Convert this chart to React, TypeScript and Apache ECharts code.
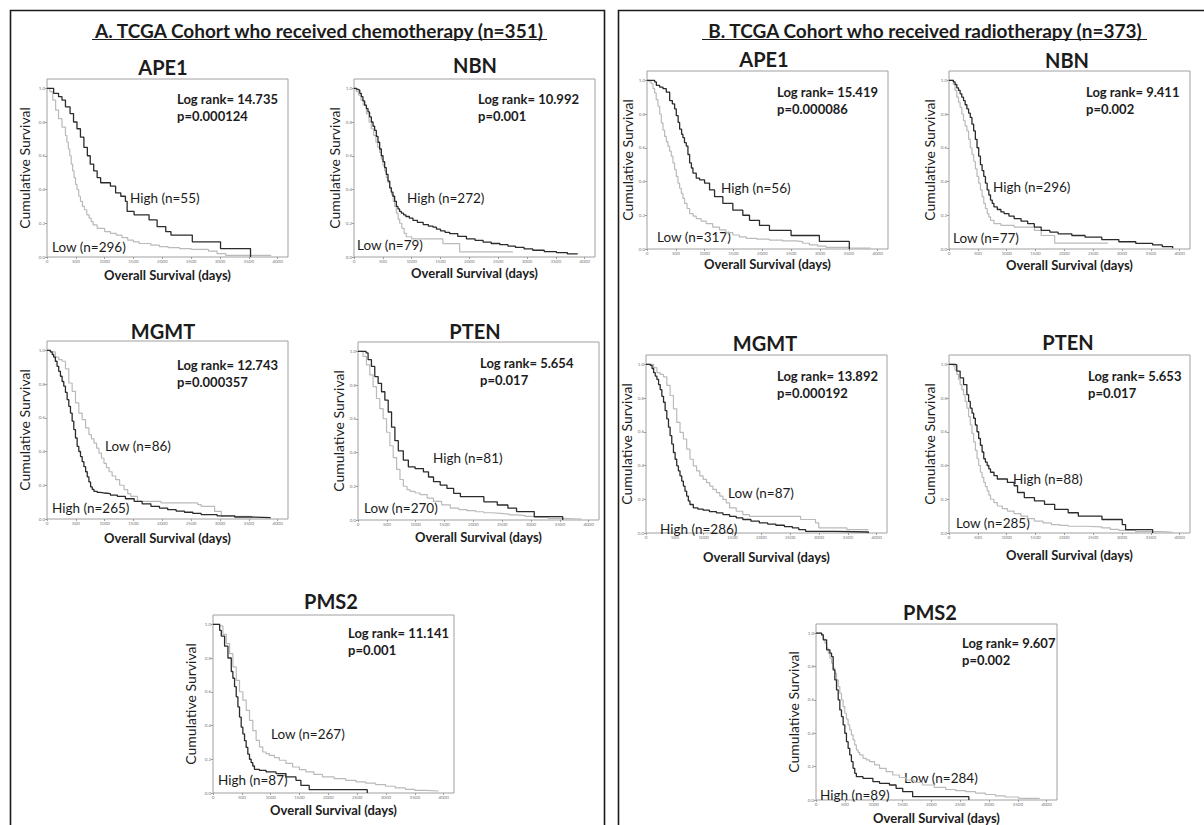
import React, { useEffect, useRef } from "react";
import * as echarts from "echarts";

type P = [number, number];

// ---------- survival data (days, cumulative survival) ----------
const chemoApe1High: P[] = [[0,1],[115,0.97],[200,0.95],[260,0.93],[320,0.89],[400,0.85],[460,0.8],[520,0.76],[580,0.71],[640,0.65],[700,0.6],[750,0.55],[810,0.51],[870,0.47],[930,0.44],[1100,0.42],[1190,0.38],[1280,0.36],[1360,0.33],[1390,0.27],[1510,0.25],[1770,0.22],[1910,0.18],[2060,0.15],[2150,0.13],[2520,0.09],[3010,0.05],[3530,0]];
const chemoApe1Low: P[] = [[0,1],[50,0.98],[100,0.93],[150,0.87],[200,0.82],[260,0.77],[320,0.72],[345,0.68],[370,0.64],[395,0.6],[420,0.55],[445,0.51],[470,0.47],[495,0.43],[520,0.4],[550,0.36],[580,0.33],[615,0.3],[650,0.28],[690,0.25],[730,0.23],[765,0.21],[800,0.19],[870,0.17],[1000,0.15],[1100,0.14],[1200,0.13],[1300,0.115],[1400,0.1],[1500,0.09],[1600,0.08],[1800,0.07],[1950,0.062],[2100,0.055],[2300,0.05],[2500,0.045],[2800,0.035],[2950,0.02],[3100,0.01],[3880,0.005]];
const chemoNbnHigh: P[] = [[0,1],[40,0.995],[70,0.99],[100,0.97],[127,0.95],[155,0.925],[185,0.9],[215,0.88],[243,0.86],[270,0.83],[301,0.8],[330,0.775],[358,0.75],[387,0.715],[416,0.68],[445,0.64],[474,0.6],[503,0.565],[532,0.53],[560,0.49],[590,0.45],[620,0.41],[647,0.385],[675,0.36],[705,0.33],[735,0.3],[763,0.285],[790,0.27],[821,0.26],[860,0.25],[900,0.24],[960,0.23],[1023,0.217],[1100,0.205],[1200,0.192],[1290,0.183],[1370,0.177],[1430,0.165],[1500,0.155],[1580,0.146],[1660,0.138],[1800,0.122],[1950,0.108],[2100,0.098],[2240,0.088],[2380,0.08],[2530,0.073],[2670,0.065],[2800,0.057],[2950,0.048],[3100,0.04],[3300,0.032],[3510,0.026],[3700,0.018],[3880,0.014]];
const chemoNbnLow: P[] = [[0,1],[40,0.98],[80,0.96],[120,0.93],[160,0.9],[215,0.85],[260,0.8],[300,0.76],[340,0.72],[380,0.68],[410,0.65],[445,0.62],[475,0.58],[505,0.54],[530,0.51],[560,0.47],[590,0.44],[618,0.41],[650,0.37],[680,0.33],[705,0.3],[734,0.26],[765,0.225],[792,0.2],[830,0.17],[870,0.14],[907,0.12],[1000,0.108],[1543,0.079],[1832,0.03],[2757,0.03]];
const chemoMgmtHigh: P[] = [[0,1],[58,0.99],[90,0.975],[116,0.96],[145,0.935],[174,0.905],[203,0.875],[233,0.846],[262,0.815],[291,0.787],[320,0.75],[349,0.708],[378,0.668],[407,0.628],[436,0.58],[465,0.53],[494,0.48],[523,0.43],[552,0.4],[581,0.37],[610,0.34],[640,0.31],[670,0.28],[698,0.25],[727,0.22],[756,0.19],[785,0.175],[814,0.164],[870,0.158],[930,0.154],[1000,0.15],[1100,0.142],[1221,0.134],[1360,0.12],[1512,0.105],[1650,0.09],[1802,0.075],[1950,0.065],[2093,0.055],[2240,0.047],[2384,0.04],[2530,0.033],[2674,0.026],[2950,0.019],[3256,0.012],[3500,0.008],[3880,0.006]];
const chemoMgmtLow: P[] = [[0,1],[58,0.99],[145,0.96],[203,0.945],[262,0.935],[320,0.89],[378,0.806],[436,0.757],[494,0.688],[552,0.628],[610,0.589],[669,0.54],[727,0.5],[770,0.475],[814,0.45],[860,0.42],[901,0.39],[945,0.36],[988,0.33],[1030,0.305],[1076,0.28],[1130,0.255],[1192,0.233],[1260,0.2],[1337,0.174],[1400,0.15],[1453,0.134],[1570,0.105],[1977,0.095],[2616,0.085],[2674,0.075],[2907,0.045],[3023,0.016],[3547,0.006]];
const chemoPtenHigh: P[] = [[0,1],[140,0.99],[175,0.95],[233,0.91],[291,0.85],[349,0.81],[408,0.76],[466,0.71],[524,0.64],[582,0.55],[640,0.47],[699,0.41],[786,0.355],[873,0.315],[990,0.305],[1135,0.285],[1223,0.255],[1310,0.227],[1426,0.207],[1543,0.187],[1659,0.158],[1776,0.138],[2183,0.108],[2416,0.089],[2600,0.07],[2750,0.05],[3057,0.02],[3551,0]];
const chemoPtenLow: P[] = [[0,1],[87,0.97],[146,0.92],[204,0.86],[262,0.79],[320,0.72],[378,0.66],[437,0.6],[495,0.52],[553,0.44],[611,0.37],[670,0.3],[728,0.24],[786,0.2],[850,0.18],[902,0.17],[990,0.16],[1077,0.15],[1200,0.13],[1310,0.11],[1450,0.09],[1601,0.07],[1750,0.062],[1892,0.055],[2040,0.049],[2183,0.043],[2330,0.039],[2474,0.035],[2620,0.03],[2765,0.026],[2900,0.021],[3057,0.016],[3300,0.01],[3522,0.006],[3880,0.006]];
const chemoPms2High: P[] = [[0,1],[115,0.964],[144,0.93],[201,0.87],[259,0.8],[317,0.72],[345,0.68],[374,0.63],[403,0.57],[432,0.51],[460,0.45],[489,0.39],[518,0.35],[547,0.31],[575,0.27],[604,0.23],[633,0.2],[662,0.18],[690,0.16],[719,0.14],[806,0.134],[921,0.125],[1093,0.115],[1266,0.095],[1439,0.075],[1525,0.045],[1669,0.02],[2676,0]];
const chemoPms2Low: P[] = [[0,1],[115,0.99],[173,0.94],[230,0.885],[288,0.826],[345,0.747],[403,0.668],[460,0.6],[518,0.55],[576,0.49],[633,0.43],[691,0.37],[748,0.312],[806,0.273],[863,0.243],[920,0.233],[978,0.223],[1065,0.21],[1151,0.194],[1265,0.175],[1381,0.154],[1500,0.138],[1611,0.125],[1750,0.11],[1899,0.095],[2100,0.085],[2302,0.075],[2480,0.066],[2647,0.059],[2820,0.05],[2993,0.04],[3160,0.03],[3338,0.022],[3500,0.016],[3683,0.012],[3913,0.01]];

const radioApe1High: P[] = [[0,1],[133,0.99],[162,0.97],[219,0.96],[277,0.95],[335,0.93],[393,0.88],[440,0.86],[479,0.83],[508,0.79],[540,0.75],[566,0.71],[600,0.68],[623,0.66],[650,0.63],[681,0.61],[710,0.56],[739,0.51],[770,0.48],[797,0.45],[854,0.42],[912,0.41],[999,0.39],[1085,0.35],[1172,0.31],[1316,0.27],[1489,0.23],[1662,0.2],[1778,0.17],[1951,0.14],[2124,0.11],[2499,0.08],[2990,0.045],[3509,0]];
const radioApe1Low: P[] = [[0,1],[40,0.99],[75,0.98],[105,0.95],[133,0.925],[160,0.885],[190,0.846],[220,0.8],[248,0.747],[277,0.705],[306,0.667],[335,0.637],[364,0.608],[392,0.58],[421,0.55],[450,0.51],[479,0.47],[508,0.43],[537,0.39],[566,0.36],[595,0.33],[623,0.3],[652,0.27],[695,0.24],[739,0.21],[800,0.195],[854,0.18],[940,0.165],[1027,0.15],[1140,0.13],[1258,0.113],[1370,0.097],[1489,0.083],[1600,0.072],[1720,0.063],[1900,0.058],[2124,0.053],[2350,0.048],[2586,0.044],[2700,0.034],[2817,0.024],[2960,0.017],[3105,0.01],[3500,0.005],[3880,0.005]];
const radioNbnHigh: P[] = [[0,1],[76,0.99],[105,0.975],[135,0.955],[165,0.94],[193,0.92],[222,0.9],[252,0.88],[280,0.855],[310,0.83],[340,0.805],[369,0.78],[398,0.74],[428,0.7],[457,0.65],[486,0.6],[515,0.55],[545,0.5],[574,0.465],[603,0.43],[632,0.39],[662,0.35],[691,0.32],[720,0.29],[750,0.27],[779,0.25],[838,0.234],[900,0.22],[955,0.21],[1040,0.195],[1130,0.18],[1250,0.165],[1365,0.15],[1480,0.13],[1599,0.11],[1750,0.1],[1892,0.09],[2130,0.08],[2360,0.07],[2650,0.056],[2946,0.043],[3240,0.033],[3532,0.024],[3700,0.014],[3880,0.004]];
const radioNbnLow: P[] = [[0,1],[76,0.975],[105,0.94],[135,0.9],[165,0.87],[193,0.84],[222,0.8],[252,0.76],[280,0.73],[310,0.7],[340,0.65],[369,0.6],[398,0.56],[428,0.52],[457,0.475],[486,0.43],[515,0.39],[545,0.35],[574,0.31],[603,0.27],[632,0.24],[662,0.21],[691,0.19],[720,0.17],[779,0.15],[900,0.14],[1130,0.13],[1482,0.11],[1599,0.08],[1833,0.035],[2760,0.035]];
const radioMgmtHigh: P[] = [[0,1],[75,0.994],[105,0.975],[132,0.95],[160,0.93],[189,0.91],[218,0.88],[246,0.85],[275,0.81],[304,0.775],[332,0.725],[361,0.676],[390,0.627],[418,0.577],[447,0.527],[476,0.477],[505,0.437],[533,0.398],[562,0.368],[590,0.338],[620,0.308],[648,0.278],[676,0.248],[705,0.219],[734,0.19],[762,0.169],[820,0.149],[900,0.142],[991,0.135],[1100,0.127],[1221,0.119],[1335,0.109],[1450,0.099],[1565,0.09],[1679,0.08],[1820,0.07],[1966,0.06],[2110,0.053],[2252,0.046],[2400,0.038],[2539,0.03],[2650,0.02],[2768,0.01],[3300,0.006],[3857,0]];
const radioMgmtLow: P[] = [[0,1],[132,0.98],[189,0.95],[246,0.94],[304,0.925],[361,0.875],[418,0.815],[476,0.736],[533,0.656],[590,0.596],[648,0.557],[705,0.497],[762,0.437],[820,0.398],[877,0.368],[934,0.338],[991,0.318],[1050,0.298],[1106,0.278],[1160,0.258],[1221,0.239],[1280,0.219],[1335,0.199],[1393,0.179],[1450,0.149],[1565,0.129],[1679,0.109],[1794,0.099],[2682,0.08],[2940,0.06],[2997,0.03],[3484,0.02],[3857,0.016]];
const radioPtenHigh: P[] = [[0,1],[105,0.996],[135,0.96],[193,0.92],[252,0.88],[310,0.82],[340,0.78],[369,0.74],[400,0.71],[428,0.68],[457,0.64],[486,0.6],[515,0.56],[545,0.52],[574,0.48],[603,0.44],[632,0.42],[662,0.4],[691,0.38],[720,0.36],[780,0.34],[838,0.32],[1013,0.3],[1130,0.28],[1189,0.24],[1306,0.21],[1482,0.19],[1657,0.17],[1833,0.14],[2067,0.12],[2243,0.1],[2653,0.08],[3005,0.05],[3063,0.02],[3532,0]];
const radioPtenLow: P[] = [[0,1],[76,0.99],[105,0.965],[135,0.94],[165,0.91],[193,0.88],[222,0.85],[252,0.82],[280,0.78],[310,0.74],[340,0.69],[369,0.64],[398,0.59],[428,0.54],[457,0.49],[486,0.44],[515,0.4],[545,0.36],[574,0.33],[603,0.3],[632,0.275],[662,0.25],[691,0.225],[720,0.2],[780,0.18],[838,0.16],[925,0.145],[1013,0.13],[1130,0.115],[1248,0.1],[1365,0.085],[1482,0.07],[1630,0.06],[1775,0.05],[1920,0.045],[2067,0.04],[2360,0.036],[2653,0.03],[2800,0.022],[2946,0.016],[3239,0.008],[3707,0.004],[3880,0.004]];
const radioPms2High: P[] = [[0,1],[98,0.99],[126,0.96],[184,0.9],[241,0.88],[270,0.86],[298,0.78],[327,0.72],[356,0.66],[385,0.6],[413,0.54],[442,0.5],[471,0.45],[500,0.4],[528,0.35],[557,0.31],[585,0.27],[614,0.23],[643,0.19],[672,0.16],[700,0.14],[815,0.13],[987,0.11],[1102,0.1],[1274,0.09],[1389,0.07],[1504,0.05],[1676,0.02],[2651,0]];
const radioPms2Low: P[] = [[0,1],[98,0.99],[126,0.965],[155,0.94],[184,0.91],[212,0.88],[241,0.85],[270,0.82],[298,0.79],[327,0.76],[356,0.72],[385,0.68],[413,0.64],[442,0.6],[470,0.56],[499,0.52],[528,0.485],[557,0.45],[585,0.42],[614,0.39],[643,0.36],[671,0.33],[700,0.3],[730,0.285],[758,0.27],[815,0.25],[870,0.24],[930,0.23],[1016,0.21],[1102,0.19],[1217,0.17],[1331,0.15],[1446,0.135],[1561,0.12],[1700,0.105],[1848,0.09],[2050,0.076],[2250,0.063],[2420,0.056],[2594,0.05],[2766,0.041],[2938,0.033],[3110,0.025],[3283,0.018],[3512,0.01],[3880,0.008]];

// ---------- labels ----------
const xTicks = [0, 500, 1000, 1500, 2000, 2500, 3000, 3500, 4000];
const yTicks = [0, 0.2, 0.4, 0.6, 0.8, 1.0];
const sectionTitles = [
  "A. TCGA Cohort who received chemotherapy (n=351)",
  "B. TCGA Cohort who received radiotherapy (n=373)",
];
const geneNames = ["APE1", "NBN", "MGMT", "PTEN", "PMS2"];
const chemoLogRank = ["14.735", "10.992", "12.743", "5.654", "11.141"];
const chemoP = ["0.000124", "0.001", "0.000357", "0.017", "0.001"];
const radioLogRank = ["15.419", "9.411", "13.892", "5.653", "9.607"];
const radioP = ["0.000086", "0.002", "0.000192", "0.017", "0.002"];
const chemoHighN = [55, 272, 265, 81, 87];
const chemoLowN = [296, 79, 86, 270, 267];
const radioHighN = [56, 296, 286, 88, 89];
const radioLowN = [317, 77, 87, 285, 284];
const xAxisName = "Overall Survival (days)";
const yAxisName = "Cumulative Survival";

const chemoHigh = [chemoApe1High, chemoNbnHigh, chemoMgmtHigh, chemoPtenHigh, chemoPms2High];
const chemoLow = [chemoApe1Low, chemoNbnLow, chemoMgmtLow, chemoPtenLow, chemoPms2Low];
const radioHigh = [radioApe1High, radioNbnHigh, radioMgmtHigh, radioPtenHigh, radioPms2High];
const radioLow = [radioApe1Low, radioNbnLow, radioMgmtLow, radioPtenLow, radioPms2Low];

// ---------- layout (pixels) ----------
type Layout = {
  x0: number; yb: number; title: P; lr: P; hi: P; lo: P; xlabY: number; ylabX: number;
};
const chemoLayout: Layout[] = [
  { x0: 47, yb: 257, title: [163, 67], lr: [177, 99], hi: [130, 198], lo: [52, 247], xlabY: 275, ylabX: 24 },
  { x0: 354, yb: 257, title: [475, 65], lr: [478, 99], hi: [407, 198], lo: [357, 245], xlabY: 273, ylabX: 337 },
  { x0: 47, yb: 519, title: [163, 331], lr: [177, 365], hi: [52, 508], lo: [105, 446], xlabY: 538, ylabX: 24 },
  { x0: 358, yb: 520, title: [475, 331], lr: [480, 363], hi: [433, 458], lo: [364, 508], xlabY: 537, ylabX: 338 },
  { x0: 213, yb: 793, title: [331, 601], lr: [348, 633], hi: [218, 780], lo: [271, 734], xlabY: 810, ylabX: 190 },
];
const radioLayout: Layout[] = [
  { x0: 647, yb: 249, title: [764, 59], lr: [777, 92], hi: [721, 188], lo: [657, 237], xlabY: 264, ylabX: 627 },
  { x0: 949, yb: 249, title: [1067, 60], lr: [1086, 92], hi: [993, 187], lo: [953, 238], xlabY: 265, ylabX: 932 },
  { x0: 646, yb: 533, title: [765, 343], lr: [777, 376], hi: [660, 529], lo: [728, 493], xlabY: 557, ylabX: 628 },
  { x0: 949, yb: 533, title: [1068, 342], lr: [1088, 376], hi: [1013, 479], lo: [956, 523], xlabY: 555, ylabX: 932 },
  { x0: 816, yb: 802, title: [930, 612], lr: [962, 643], hi: [820, 795], lo: [904, 778], xlabY: 820, ylabX: 793 },
];

const FONT = "Lato, 'Open Sans', sans-serif";
const TEXT = "#1c1c1c";
const DARK = "#2b2b2b";
const LIGHT = "#bababa";
const XMAX = 4180;
const YMAX = 1.055;
const GW = 241;
const GH = 178;

function buildOption() {
  const grid: any[] = [];
  const xAxis: any[] = [];
  const yAxis: any[] = [];
  const series: any[] = [];
  const graphic: any[] = [];

  // outer frames
  graphic.push({
    type: "polyline", silent: true,
    shape: { points: [[10.5, 830], [10.5, 10.5], [604.5, 10.5], [604.5, 830]] },
    style: { stroke: "#1a1a1a", lineWidth: 1.6, fill: "none" },
  });
  graphic.push({
    type: "polyline", silent: true,
    shape: { points: [[618.5, 830], [618.5, 10.5], [1210, 10.5]] },
    style: { stroke: "#1a1a1a", lineWidth: 1.6, fill: "none" },
  });
  const secCenters: P[] = [[319, 30], [925, 30]];
  const secLines = [[92, 547], [702, 1147]];
  sectionTitles.forEach((t, k) => {
    graphic.push({
      type: "text", silent: true, x: secCenters[k][0], y: secCenters[k][1],
      style: { text: t, fill: TEXT, font: `bold 19px ${FONT}`, align: "center", verticalAlign: "middle" },
    });
    graphic.push({
      type: "line", silent: true,
      shape: { x1: secLines[k][0], y1: 39.5, x2: secLines[k][1], y2: 39.5 },
      style: { stroke: TEXT, lineWidth: 1.2 },
    });
  });

  const groups = [
    { layout: chemoLayout, high: chemoHigh, low: chemoLow, lr: chemoLogRank, p: chemoP, hn: chemoHighN, ln: chemoLowN },
    { layout: radioLayout, high: radioHigh, low: radioLow, lr: radioLogRank, p: radioP, hn: radioHighN, ln: radioLowN },
  ];

  let idx = 0;
  groups.forEach((g) => {
    g.layout.forEach((L, j) => {
      const i = idx++;
      grid.push({
        left: L.x0, top: L.yb - GH, width: GW, height: GH,
        show: true, borderColor: "#a0a0a0", borderWidth: 1, backgroundColor: "transparent",
      });
      xAxis.push({
        type: "value", gridIndex: i, min: 0, max: XMAX,
        splitLine: { show: false },
        axisLine: { show: false },
        axisTick: { show: true, length: 2, lineStyle: { color: "#8a8a8a", width: 0.8 }, customValues: xTicks },
        axisLabel: {
          customValues: xTicks, fontSize: 4.5, color: "#7a7a7a", margin: 2, fontFamily: FONT,
          formatter: (v: number) => String(v),
        },
        name: xAxisName, nameLocation: "middle", nameGap: L.xlabY - L.yb - 7,
        nameTextStyle: { fontSize: 13, fontWeight: "bold", color: TEXT, fontFamily: FONT },
      });
      yAxis.push({
        type: "value", gridIndex: i, min: 0, max: YMAX,
        splitLine: { show: false },
        axisLine: { show: false },
        axisTick: { show: true, length: 2, lineStyle: { color: "#8a8a8a", width: 0.8 }, customValues: yTicks },
        axisLabel: {
          customValues: yTicks, fontSize: 4.5, color: "#7a7a7a", margin: 2, fontFamily: FONT,
          formatter: (v: number) => v.toFixed(1),
        },
        name: yAxisName, nameLocation: "middle", nameRotate: 90, nameGap: L.x0 - L.ylabX - 7,
        nameTextStyle: { fontSize: 14, color: TEXT, fontFamily: FONT },
      });
      series.push({
        type: "line", xAxisIndex: i, yAxisIndex: i, data: g.low[j], step: "end",
        showSymbol: false, symbol: "none", silent: true, z: 2,
        lineStyle: { color: LIGHT, width: 1.2 },
      });
      series.push({
        type: "line", xAxisIndex: i, yAxisIndex: i, data: g.high[j], step: "end",
        showSymbol: false, symbol: "none", silent: true, z: 3,
        lineStyle: { color: DARK, width: 1.3 },
      });
      graphic.push({
        type: "text", silent: true, x: L.title[0], y: L.title[1],
        style: { text: geneNames[j], fill: TEXT, font: `bold 20px ${FONT}`, align: "center", verticalAlign: "middle" },
      });
      graphic.push({
        type: "text", silent: true, x: L.lr[0], y: L.lr[1],
        style: { text: `Log rank= ${g.lr[j]}`, fill: TEXT, font: `bold 13px ${FONT}`, align: "left", verticalAlign: "middle" },
      });
      graphic.push({
        type: "text", silent: true, x: L.lr[0], y: L.lr[1] + 17,
        style: { text: `p=${g.p[j]}`, fill: TEXT, font: `bold 13px ${FONT}`, align: "left", verticalAlign: "middle" },
      });
      graphic.push({
        type: "text", silent: true, x: L.hi[0], y: L.hi[1],
        style: { text: `High (n=${g.hn[j]})`, fill: TEXT, font: `13.5px ${FONT}`, align: "left", verticalAlign: "middle" },
      });
      graphic.push({
        type: "text", silent: true, x: L.lo[0], y: L.lo[1],
        style: { text: `Low (n=${g.ln[j]})`, fill: TEXT, font: `13.5px ${FONT}`, align: "left", verticalAlign: "middle" },
      });
    });
  });

  return {
    animation: false,
    backgroundColor: "#ffffff",
    grid, xAxis, yAxis, series, graphic,
  };
}

export default function App() {
  const ref = useRef<HTMLDivElement>(null);
  useEffect(() => {
    if (!ref.current) return;
    const chart = echarts.init(ref.current, undefined, { renderer: "svg" });
    chart.setOption(buildOption() as any);
    return () => chart.dispose();
  }, []);
  return (
    <div
      ref={ref}
      style={{ position: "fixed", left: 0, top: 0, width: 1204, height: 825, background: "#fff" }}
    />
  );
}
